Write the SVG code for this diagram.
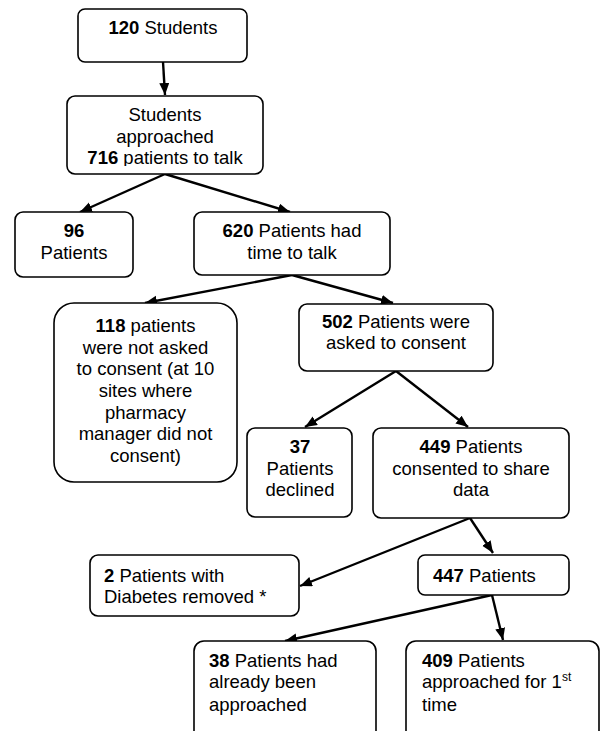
<svg xmlns="http://www.w3.org/2000/svg" width="601" height="731" viewBox="0 0 601 731">
<style>
.box{fill:#fff;stroke:#000;stroke-width:1.6}
text{font-family:"Liberation Sans",Arial,sans-serif;font-size:18.5px;fill:#000}
.c{text-anchor:middle}
.b{font-weight:bold}
.con line{stroke:#000;stroke-width:2.4;marker-end:url(#ah)}
</style>
<defs>
<marker id="ah" markerUnits="userSpaceOnUse" markerWidth="14" markerHeight="12" refX="12" refY="5" orient="auto">
<path d="M0,0 L12,5 L0,10 Z" fill="#000"/>
</marker>
<clipPath id="clip2"><rect x="60" y="90" width="210" height="76"/></clipPath>
</defs>
<g id="connectors" class="con">
<line x1="163" y1="62" x2="165" y2="95"/>
<line x1="165" y1="174" x2="80" y2="212"/>
<line x1="165" y1="174" x2="290" y2="212"/>
<line x1="292" y1="275" x2="145" y2="303"/>
<line x1="292" y1="275" x2="393" y2="303"/>
<line x1="396" y1="371" x2="305" y2="427"/>
<line x1="396" y1="371" x2="468" y2="427"/>
<line x1="470" y1="518" x2="300" y2="586"/>
<line x1="470" y1="518" x2="493" y2="553"/>
<line x1="492" y1="595" x2="285" y2="641"/>
<line x1="492" y1="595" x2="503" y2="640"/>
</g>
<g id="n120">
<rect class="box" x="78" y="9" width="169" height="53" rx="7"/>
<text class="c" x="163" y="34"><tspan class="b">120</tspan> Students</text>
</g>
<g id="n716">
<rect class="box" x="67" y="96" width="196" height="78" rx="8"/>
<text class="c" x="165" y="121">Students</text>
<text class="c" x="165" y="143">approached</text>
<text class="c" x="165" y="164" clip-path="url(#clip2)"><tspan class="b">716</tspan> patients to talk</text>
</g>
<g id="n96">
<rect class="box" x="15" y="212" width="118" height="65" rx="8"/>
<text class="c b" x="74" y="237">96</text>
<text class="c" x="74" y="259">Patients</text>
</g>
<g id="n620">
<rect class="box" x="194" y="212" width="196" height="63" rx="8"/>
<text class="c" x="292" y="237"><tspan class="b">620</tspan> Patients had</text>
<text class="c" x="292" y="259">time to talk</text>
</g>
<g id="n118">
<rect class="box" x="54" y="303" width="183" height="179" rx="20"/>
<text class="c" x="145.5" y="332"><tspan class="b">118</tspan> patients</text>
<text class="c" x="145.5" y="353.5">were not asked</text>
<text class="c" x="145.5" y="375">to consent (at 10</text>
<text class="c" x="145.5" y="397">sites where</text>
<text class="c" x="145.5" y="418.5">pharmacy</text>
<text class="c" x="145.5" y="440">manager did not</text>
<text class="c" x="145.5" y="462">consent)</text>
</g>
<g id="n502">
<rect class="box" x="299" y="304" width="194" height="67" rx="8"/>
<text class="c" x="396" y="328"><tspan class="b">502</tspan> Patients were</text>
<text class="c" x="396" y="349">asked to consent</text>
</g>
<g id="n37">
<rect class="box" x="247" y="428" width="105" height="89" rx="8"/>
<text class="c b" x="300" y="453">37</text>
<text class="c" x="300" y="475">Patients</text>
<text class="c" x="300" y="496">declined</text>
</g>
<g id="n449">
<rect class="box" x="373" y="428" width="196" height="90" rx="8"/>
<text class="c" x="471" y="453"><tspan class="b">449</tspan> Patients</text>
<text class="c" x="471" y="475">consented to share</text>
<text class="c" x="471" y="496">data</text>
</g>
<g id="n2">
<rect class="box" x="90" y="555" width="209" height="61" rx="8"/>
<text x="104" y="582"><tspan class="b">2</tspan> Patients with</text>
<text x="104" y="603">Diabetes removed *</text>
</g>
<g id="n447">
<rect class="box" x="418" y="555" width="151" height="40" rx="7"/>
<text x="433" y="582"><tspan class="b">447</tspan> Patients</text>
</g>
<g id="n38">
<rect class="box" x="194" y="641" width="182" height="110" rx="10"/>
<text x="209" y="667"><tspan class="b">38</tspan> Patients had</text>
<text x="209" y="688">already been</text>
<text x="209" y="711">approached</text>
</g>
<g id="n409">
<rect class="box" x="406" y="641" width="193" height="110" rx="10"/>
<text x="422" y="667"><tspan class="b">409</tspan> Patients</text>
<text x="422" y="688">approached for 1<tspan font-size="12" dy="-7">st</tspan></text>
<text x="422" y="711">time</text>
</g>
</svg>
